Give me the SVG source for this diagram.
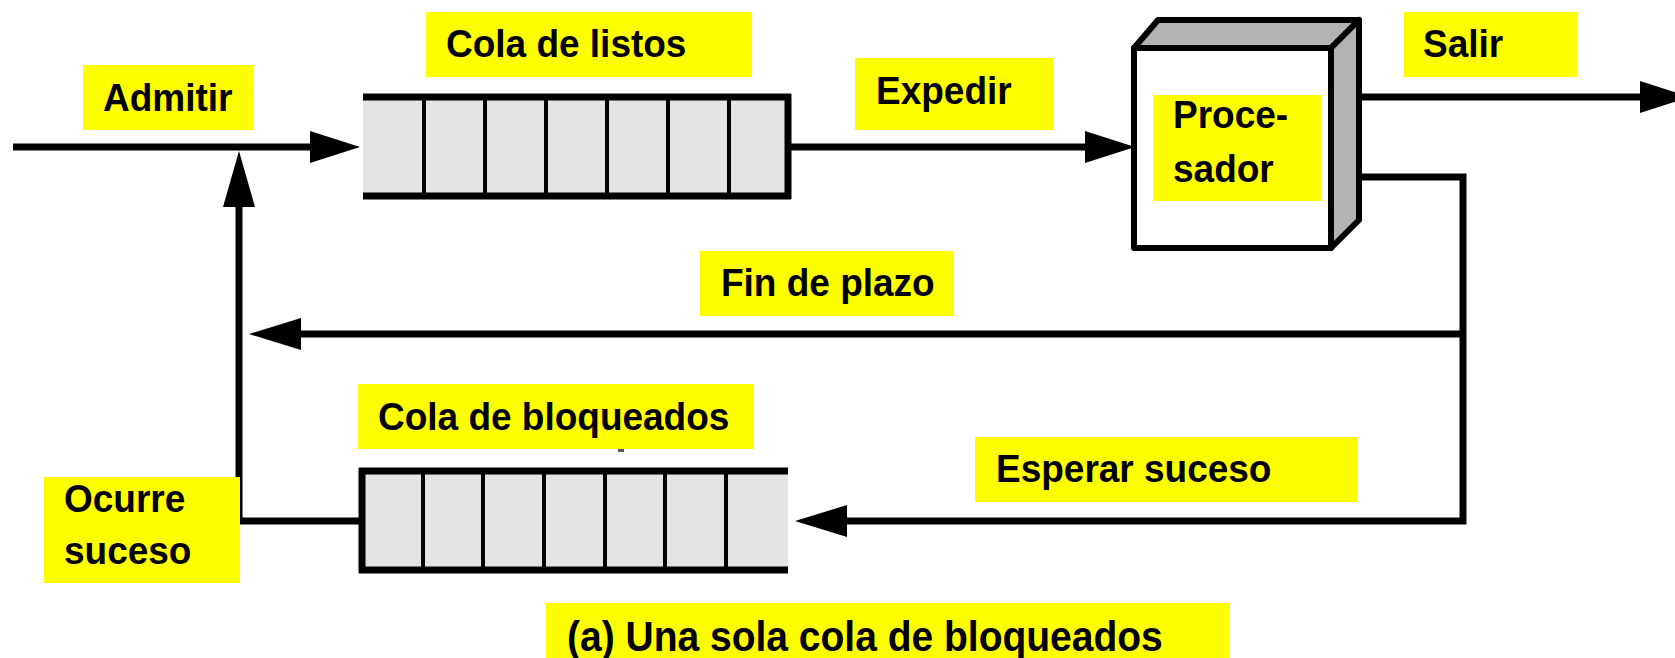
<svg xmlns="http://www.w3.org/2000/svg" width="1675" height="658" viewBox="0 0 1675 658">
<style>
.lbl{fill:#ffff00}
.t{font-family:"Liberation Sans",Arial,sans-serif;font-weight:bold;font-size:37px;fill:#000}
.cap{font-size:39px}
.ln{fill:none;stroke:#000;stroke-width:7;stroke-linejoin:miter}
.qf{fill:#e4e4e4}
.qe{stroke:#000;stroke-width:7;fill:none}
.qd{stroke:#000;stroke-width:4}
.ah{fill:#000}
.gray{fill:#b3b3b3;stroke:#000;stroke-width:6;stroke-linejoin:round}
</style>
<rect width="1675" height="658" fill="#fff"/>
<g id="connectors">
  <line class="ln" x1="13" y1="147" x2="312" y2="147"/>
  <polygon class="ah" points="310,131 360,147 310,163"/>
  <line class="ln" x1="788" y1="147" x2="1087" y2="147"/>
  <polygon class="ah" points="1085,131 1135,147 1085,163"/>
  <line class="ln" x1="1345" y1="97" x2="1642" y2="97"/>
  <polygon class="ah" points="1640,81 1690,97 1640,113"/>
  <polyline class="ln" points="1345,177 1463,177 1463,521 845,521"/>
  <polygon class="ah" points="847,505 795,521 847,537"/>
  <line class="ln" x1="1463" y1="334" x2="299" y2="334"/>
  <polygon class="ah" points="301,318 249,334 301,350"/>
  <polyline class="ln" points="359,521 239,521 239,205"/>
  <polygon class="ah" points="223,207 239,151 255,207"/>
</g>
<g id="admitir">
  <rect class="lbl" x="83" y="65" width="171" height="65"/>
  <text class="t" transform="translate(103,111) scale(1,1.07)">Admitir</text>
</g>
<g id="cola-listos-label">
  <rect class="lbl" x="426" y="12" width="326" height="65"/>
  <text class="t" transform="translate(446,57) scale(1,1.07)">Cola de listos</text>
</g>
<g id="cola-listos">
  <rect class="qf" x="363" y="97" width="425" height="99"/>
  <line class="qe" x1="363" y1="97" x2="791" y2="97"/>
  <line class="qe" x1="363" y1="196" x2="791" y2="196"/>
  <line class="qe" x1="788" y1="94" x2="788" y2="199"/>
  <line class="qd" x1="424" y1="97" x2="424" y2="196"/>
  <line class="qd" x1="485" y1="97" x2="485" y2="196"/>
  <line class="qd" x1="546" y1="97" x2="546" y2="196"/>
  <line class="qd" x1="607" y1="97" x2="607" y2="196"/>
  <line class="qd" x1="668" y1="97" x2="668" y2="196"/>
  <line class="qd" x1="729" y1="97" x2="729" y2="196"/>
</g>
<g id="expedir">
  <rect class="lbl" x="855" y="58" width="198" height="72"/>
  <text class="t" transform="translate(876,104) scale(1,1.07)">Expedir</text>
</g>
<g id="procesador">
  <polygon class="gray" points="1134,48 1158,20 1359,20 1331,48"/>
  <polygon class="gray" points="1331,48 1359,20 1359,220 1331,248"/>
  <rect x="1134" y="48" width="197" height="200" fill="#fff" stroke="#000" stroke-width="6" stroke-linejoin="round"/>
  <rect class="lbl" x="1153" y="95" width="168" height="106"/>
  <text class="t" transform="translate(1173,128) scale(1,1.07)">Proce-</text>
  <text class="t" transform="translate(1173,182) scale(1,1.07)">sador</text>
</g>
<g id="salir">
  <rect class="lbl" x="1404" y="12" width="173" height="65"/>
  <text class="t" transform="translate(1423,57) scale(1,1.07)">Salir</text>
</g>
<g id="fin-de-plazo">
  <rect class="lbl" x="700" y="251" width="254" height="65"/>
  <text class="t" transform="translate(721,296) scale(1,1.07)">Fin de plazo</text>
</g>
<g id="cola-bloqueados-label">
  <rect class="lbl" x="358" y="384" width="396" height="65"/>
  <text class="t" transform="translate(378,430) scale(1,1.07)">Cola de bloqueados</text>
  <rect x="618" y="449" width="6" height="3" fill="#555"/>
</g>
<g id="cola-bloqueados">
  <rect class="qf" x="362" y="471" width="426" height="99"/>
  <line class="qe" x1="359" y1="471" x2="788" y2="471"/>
  <line class="qe" x1="359" y1="570" x2="788" y2="570"/>
  <line class="qe" x1="362" y1="468" x2="362" y2="573"/>
  <line class="qd" x1="423" y1="471" x2="423" y2="570"/>
  <line class="qd" x1="483" y1="471" x2="483" y2="570"/>
  <line class="qd" x1="544" y1="471" x2="544" y2="570"/>
  <line class="qd" x1="605" y1="471" x2="605" y2="570"/>
  <line class="qd" x1="665" y1="471" x2="665" y2="570"/>
  <line class="qd" x1="726" y1="471" x2="726" y2="570"/>
</g>
<g id="esperar-suceso">
  <rect class="lbl" x="975" y="437" width="382" height="65"/>
  <text class="t" transform="translate(996,482) scale(1,1.07)">Esperar suceso</text>
</g>
<g id="ocurre-suceso">
  <rect class="lbl" x="44" y="477" width="196" height="106"/>
  <text class="t" transform="translate(64,512) scale(1,1.07)">Ocurre</text>
  <text class="t" transform="translate(64,564) scale(1,1.07)">suceso</text>
</g>
<g id="caption">
  <rect class="lbl" x="546" y="603" width="684" height="60"/>
  <text class="t cap" transform="translate(567,651) scale(1,1.08)">(a) Una sola cola de bloqueados</text>
</g>
</svg>
